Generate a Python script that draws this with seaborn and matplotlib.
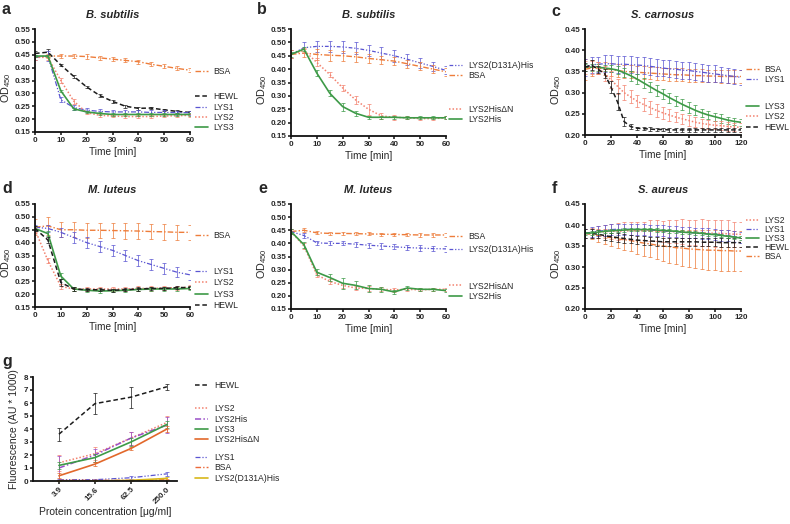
import numpy as np
import pandas as pd
import matplotlib
matplotlib.use('Agg')
import matplotlib.pyplot as plt
from matplotlib.lines import Line2D
from matplotlib.legend import Legend
import seaborn as sns

sns.set_style('ticks')
plt.rcParams['font.family'] = ['Liberation Sans', 'DejaVu Sans']
plt.rcParams['mathtext.fontset'] = 'custom'
plt.rcParams['mathtext.rm'] = 'Liberation Sans'

# ---------------- data ----------------
t60 = [0, 5, 10, 15, 20, 25, 30, 35, 40, 45, 50, 55, 60]
t120 = [0, 5, 10, 15, 20, 25, 30, 35, 40, 45, 50, 55, 60, 65, 70, 75, 80, 85, 90, 95, 100, 105, 110, 115, 120]

# a: B. subtilis
a_bsa = [0.440, 0.445, 0.445, 0.445, 0.443, 0.438, 0.433, 0.428, 0.423, 0.413, 0.405, 0.397, 0.390]
a_bsa_err = [0.010, 0.008, 0.008, 0.008, 0.008, 0.008, 0.008, 0.008, 0.008, 0.008, 0.008, 0.008, 0.008]
a_hewl = [0.455, 0.460, 0.410, 0.366, 0.325, 0.292, 0.269, 0.250, 0.242, 0.243, 0.236, 0.230, 0.226]
a_hewl_err = [0.010, 0.012, 0.005, 0.005, 0.005, 0.005, 0.005, 0.005, 0.005, 0.005, 0.005, 0.005, 0.005]
a_lys1 = [0.440, 0.445, 0.275, 0.245, 0.235, 0.230, 0.228, 0.228, 0.228, 0.226, 0.226, 0.225, 0.225]
a_lys1_err = [0.010, 0.020, 0.010, 0.008, 0.008, 0.008, 0.008, 0.008, 0.008, 0.008, 0.008, 0.008, 0.008]
a_lys2 = [0.440, 0.440, 0.350, 0.270, 0.225, 0.215, 0.212, 0.210, 0.210, 0.210, 0.212, 0.213, 0.215]
a_lys2_err = [0.010, 0.010, 0.010, 0.010, 0.005, 0.005, 0.005, 0.005, 0.005, 0.005, 0.005, 0.005, 0.005]
a_lys3 = [0.445, 0.445, 0.310, 0.240, 0.228, 0.222, 0.218, 0.218, 0.218, 0.218, 0.218, 0.218, 0.218]
a_lys3_err = [0.005, 0.005, 0.005, 0.005, 0.005, 0.005, 0.005, 0.005, 0.005, 0.005, 0.005, 0.005, 0.005]

# b: B. subtilis
b_d131a = [0.455, 0.480, 0.485, 0.485, 0.483, 0.478, 0.470, 0.460, 0.450, 0.437, 0.423, 0.410, 0.395]
b_d131a_err = [0.015, 0.020, 0.020, 0.020, 0.022, 0.022, 0.022, 0.022, 0.022, 0.020, 0.020, 0.018, 0.015]
b_bsa = [0.455, 0.460, 0.455, 0.452, 0.450, 0.446, 0.440, 0.435, 0.430, 0.420, 0.410, 0.400, 0.390]
b_bsa_err = [0.015, 0.015, 0.020, 0.020, 0.018, 0.018, 0.018, 0.015, 0.015, 0.015, 0.015, 0.015, 0.015]
b_hisdn = [0.455, 0.470, 0.425, 0.380, 0.330, 0.285, 0.250, 0.225, 0.220, 0.218, 0.215, 0.215, 0.218]
b_hisdn_err = [0.015, 0.010, 0.015, 0.010, 0.012, 0.015, 0.020, 0.010, 0.010, 0.005, 0.005, 0.005, 0.005]
b_his = [0.455, 0.475, 0.385, 0.310, 0.260, 0.235, 0.220, 0.220, 0.220, 0.218, 0.218, 0.218, 0.218]
b_his_err = [0.010, 0.008, 0.010, 0.012, 0.015, 0.010, 0.005, 0.005, 0.005, 0.005, 0.005, 0.005, 0.005]

# c: S. carnosus
c_bsa = [0.355, 0.358, 0.358, 0.356, 0.355, 0.352, 0.350, 0.349, 0.348, 0.347, 0.346, 0.345, 0.344,
         0.343, 0.342, 0.342, 0.341, 0.340, 0.340, 0.339, 0.339, 0.338, 0.338, 0.338, 0.338]
c_bsa_err = [0.025, 0.020, 0.015, 0.015, 0.015, 0.015, 0.015, 0.015, 0.015, 0.015, 0.015, 0.015, 0.015,
             0.015, 0.015, 0.015, 0.015, 0.015, 0.015, 0.015, 0.015, 0.015, 0.015, 0.015, 0.015]
c_lys1 = [0.360, 0.365, 0.367, 0.368, 0.368, 0.367, 0.367, 0.366, 0.365, 0.364, 0.362, 0.360, 0.358,
          0.356, 0.355, 0.353, 0.352, 0.350, 0.348, 0.346, 0.344, 0.342, 0.340, 0.338, 0.336]
c_lys1_err = [0.020, 0.018, 0.018, 0.020, 0.020, 0.020, 0.020, 0.020, 0.020, 0.020, 0.020, 0.020, 0.020,
              0.020, 0.020, 0.020, 0.020, 0.020, 0.020, 0.020, 0.020, 0.018, 0.018, 0.018, 0.018]
c_lys3 = [0.360, 0.360, 0.360, 0.358, 0.356, 0.353, 0.347, 0.340, 0.332, 0.323, 0.314, 0.305, 0.297,
          0.288, 0.280, 0.272, 0.265, 0.258, 0.252, 0.247, 0.243, 0.239, 0.235, 0.232, 0.230]
c_lys3_err = [0.008, 0.008, 0.008, 0.008, 0.008, 0.010, 0.010, 0.012, 0.012, 0.012, 0.012, 0.012, 0.012,
              0.012, 0.012, 0.012, 0.012, 0.012, 0.010, 0.010, 0.010, 0.010, 0.008, 0.008, 0.008]
c_lys2 = [0.360, 0.360, 0.358, 0.345, 0.330, 0.315, 0.300, 0.290, 0.280, 0.272, 0.265, 0.258, 0.252,
          0.247, 0.242, 0.238, 0.234, 0.230, 0.227, 0.225, 0.223, 0.222, 0.220, 0.219, 0.218]
c_lys2_err = [0.015, 0.015, 0.015, 0.018, 0.020, 0.018, 0.018, 0.015, 0.015, 0.015, 0.015, 0.015, 0.015,
              0.015, 0.012, 0.012, 0.012, 0.012, 0.010, 0.010, 0.010, 0.010, 0.010, 0.010, 0.010]
c_hewl = [0.360, 0.365, 0.355, 0.345, 0.313, 0.278, 0.232, 0.220, 0.216, 0.215, 0.214, 0.213, 0.213,
          0.212, 0.212, 0.212, 0.212, 0.212, 0.212, 0.212, 0.212, 0.212, 0.212, 0.212, 0.212]
c_hewl_err = [0.010, 0.012, 0.008, 0.010, 0.015, 0.020, 0.010, 0.005, 0.004, 0.004, 0.004, 0.004, 0.004,
              0.004, 0.004, 0.004, 0.004, 0.004, 0.004, 0.004, 0.004, 0.004, 0.004, 0.004, 0.004]

# d: M. luteus
d_bsa = [0.460, 0.465, 0.450, 0.450, 0.448, 0.448, 0.447, 0.446, 0.445, 0.443, 0.442, 0.440, 0.440]
d_bsa_err = [0.030, 0.035, 0.030, 0.030, 0.030, 0.030, 0.030, 0.030, 0.030, 0.030, 0.030, 0.030, 0.030]
d_lys1 = [0.460, 0.455, 0.440, 0.420, 0.400, 0.385, 0.370, 0.350, 0.330, 0.315, 0.300, 0.285, 0.275]
d_lys1_err = [0.010, 0.015, 0.018, 0.020, 0.020, 0.020, 0.020, 0.022, 0.022, 0.022, 0.020, 0.020, 0.020]
d_lys2 = [0.450, 0.330, 0.230, 0.220, 0.220, 0.220, 0.220, 0.220, 0.222, 0.222, 0.224, 0.225, 0.226]
d_lys2_err = [0.010, 0.010, 0.010, 0.008, 0.008, 0.008, 0.008, 0.008, 0.008, 0.008, 0.008, 0.008, 0.008]
d_lys3 = [0.455, 0.435, 0.270, 0.220, 0.215, 0.212, 0.213, 0.215, 0.218, 0.220, 0.220, 0.220, 0.222]
d_lys3_err = [0.008, 0.010, 0.012, 0.008, 0.006, 0.006, 0.006, 0.006, 0.006, 0.006, 0.006, 0.006, 0.006]
d_hewl = [0.455, 0.410, 0.245, 0.220, 0.217, 0.217, 0.215, 0.217, 0.220, 0.222, 0.222, 0.225, 0.226]
d_hewl_err = [0.008, 0.010, 0.012, 0.006, 0.006, 0.006, 0.006, 0.006, 0.006, 0.006, 0.006, 0.006, 0.006]

# e: M. luteus
e_bsa = [0.445, 0.450, 0.440, 0.438, 0.438, 0.437, 0.436, 0.435, 0.434, 0.433, 0.432, 0.432, 0.432]
e_bsa_err = [0.008, 0.008, 0.006, 0.006, 0.006, 0.006, 0.006, 0.006, 0.006, 0.006, 0.006, 0.006, 0.006]
e_d131a = [0.445, 0.430, 0.402, 0.400, 0.400, 0.397, 0.393, 0.390, 0.387, 0.384, 0.382, 0.380, 0.379]
e_d131a_err = [0.010, 0.010, 0.008, 0.008, 0.008, 0.010, 0.010, 0.010, 0.010, 0.010, 0.010, 0.010, 0.010]
e_hisdn = [0.445, 0.390, 0.280, 0.255, 0.240, 0.230, 0.228, 0.225, 0.223, 0.225, 0.223, 0.225, 0.225]
e_hisdn_err = [0.010, 0.010, 0.010, 0.010, 0.010, 0.008, 0.008, 0.008, 0.008, 0.006, 0.006, 0.006, 0.006]
e_his = [0.445, 0.395, 0.290, 0.270, 0.248, 0.240, 0.228, 0.225, 0.215, 0.230, 0.225, 0.225, 0.220]
e_his_err = [0.010, 0.012, 0.012, 0.015, 0.020, 0.015, 0.012, 0.010, 0.006, 0.006, 0.006, 0.006, 0.006]

# f: S. aureus
f_lys2 = [0.380, 0.382, 0.383, 0.384, 0.385, 0.385, 0.386, 0.386, 0.386, 0.386, 0.386, 0.386, 0.385,
          0.385, 0.384, 0.384, 0.383, 0.382, 0.382, 0.381, 0.380, 0.380, 0.379, 0.378, 0.378]
f_lys2_err = [0.010, 0.012, 0.015, 0.015, 0.018, 0.020, 0.020, 0.022, 0.022, 0.022, 0.025, 0.025, 0.025,
              0.028, 0.028, 0.030, 0.030, 0.030, 0.032, 0.032, 0.032, 0.032, 0.032, 0.030, 0.030]
f_lys1 = [0.380, 0.383, 0.385, 0.387, 0.389, 0.390, 0.390, 0.390, 0.390, 0.389, 0.388, 0.387, 0.386,
          0.385, 0.384, 0.383, 0.382, 0.381, 0.380, 0.379, 0.378, 0.376, 0.374, 0.372, 0.370]
f_lys1_err = [0.010, 0.012, 0.012, 0.012, 0.013, 0.013, 0.013, 0.013, 0.013, 0.013, 0.013, 0.013, 0.013,
              0.013, 0.013, 0.013, 0.013, 0.013, 0.013, 0.013, 0.013, 0.013, 0.013, 0.013, 0.013]
f_lys3 = [0.380, 0.381, 0.383, 0.385, 0.386, 0.387, 0.388, 0.389, 0.389, 0.389, 0.389, 0.388, 0.387,
          0.386, 0.385, 0.383, 0.382, 0.381, 0.380, 0.378, 0.377, 0.375, 0.373, 0.371, 0.369]
f_lys3_err = [0.004, 0.004, 0.004, 0.004, 0.004, 0.004, 0.004, 0.004, 0.004, 0.004, 0.004, 0.004, 0.004,
              0.004, 0.004, 0.004, 0.004, 0.004, 0.004, 0.004, 0.004, 0.004, 0.004, 0.004, 0.004]
f_hewl = [0.380, 0.380, 0.378, 0.375, 0.372, 0.370, 0.368, 0.366, 0.364, 0.363, 0.362, 0.361, 0.360,
          0.360, 0.360, 0.360, 0.360, 0.360, 0.359, 0.359, 0.359, 0.358, 0.358, 0.358, 0.358]
f_hewl_err = [0.010, 0.010, 0.010, 0.010, 0.010, 0.010, 0.010, 0.010, 0.010, 0.010, 0.010, 0.010, 0.010,
              0.010, 0.010, 0.010, 0.010, 0.010, 0.010, 0.010, 0.010, 0.010, 0.010, 0.010, 0.010]
f_bsa = [0.380, 0.378, 0.375, 0.372, 0.370, 0.367, 0.365, 0.363, 0.360, 0.357, 0.355, 0.352, 0.350,
         0.348, 0.346, 0.345, 0.343, 0.342, 0.341, 0.340, 0.340, 0.339, 0.339, 0.338, 0.338]
f_bsa_err = [0.010, 0.012, 0.015, 0.018, 0.020, 0.022, 0.024, 0.026, 0.028, 0.030, 0.032, 0.034, 0.036,
             0.038, 0.040, 0.042, 0.044, 0.045, 0.046, 0.047, 0.048, 0.048, 0.048, 0.048, 0.048]

# g: fluorescence vs concentration
conc_labels = ['3.9', '15.6', '62.5', '250.0']
g_hewl = [3.6, 5.95, 6.45, 7.25]
g_hewl_err = [0.5, 0.8, 0.8, 0.25]
g_lys2 = [1.4, 2.1, 3.3, 4.5]
g_lys2_err = [0.6, 0.5, 0.5, 0.5]
g_lys2his = [1.0, 2.0, 3.3, 4.3]
g_lys2his_err = [0.9, 0.5, 0.5, 0.6]
g_lys3 = [1.2, 1.8, 3.0, 4.35]
g_lys3_err = [0.3, 0.3, 0.3, 0.3]
g_hisdn = [0.4, 1.3, 2.5, 4.0]
g_hisdn_err = [0.2, 0.15, 0.15, 0.2]
g_lys1 = [0.1, 0.1, 0.25, 0.55]
g_lys1_err = [0.05, 0.05, 0.1, 0.15]
g_bsa = [0.05, 0.05, 0.05, 0.1]
g_bsa_err = [0.03, 0.03, 0.03, 0.05]
g_d131a = [0.0, 0.0, 0.05, 0.2]
g_d131a_err = [0.03, 0.03, 0.03, 0.1]

# ---------------- styles ----------------
STY = {
    'HEWL': ('#1c1c1c', (3, 1.8), 1.1),
    'LYS1': ('#5a55d2', (4, 1.5, 1, 1.5, 1, 1.5), 0.9),
    'LYS2': ('#f3826f', (1, 1.3), 1.1),
    'LYS3': ('#3d9a47', None, 1.2),
    'BSA': ('#ee7d3b', (4, 1.5, 1, 1.5), 1.0),
    'LYS2His': ('#3d9a47', None, 1.2),
    'LYS2His\u0394N': ('#f3826f', (1, 1.3), 1.1),
    'LYS2(D131A)His': ('#5a55d2', (3, 1.5, 1, 1.5, 1, 1.5), 0.9),
}
STY_G = dict(STY)
STY_G.update({
    'LYS2His': ('#9a4fc8', (4, 1.5, 1, 1.5), 1.1),
    'LYS2His\u0394N': ('#e2682b', None, 1.2),
    'LYS2(D131A)His': ('#d8b81a', None, 1.2),
    'BSA': ('#ec6a3a', (4, 1.5, 1, 1.5), 1.0),
})

W, H = 790, 524
fig = plt.figure(figsize=(W / 100, H / 100), dpi=100)


def add_ax(l, t, r, b):
    return fig.add_axes([l / W, 1 - b / H, (r - l) / W, (b - t) / H])


def draw(ax, x, name, y, err, sty):
    color, dash, lw = sty[name]
    df = pd.DataFrame({'x': x, 'y': y})
    sns.lineplot(data=df, x='x', y='y', ax=ax, color=color, linewidth=lw)
    if dash is not None:
        ax.lines[-1].set_dashes(dash)
    ax.errorbar(x, y, yerr=err, fmt='none', ecolor=color, elinewidth=0.6,
                capsize=1.5, capthick=0.6, alpha=0.85)


def label_group(ax, names, frac, sty, x=1.03, spacing=0.15):
    handles = []
    for n in names:
        color, dash, lw = sty[n]
        h = Line2D([], [], color=color, lw=lw)
        if dash is not None:
            h.set_dashes(dash)
        handles.append(h)
    leg = Legend(ax, handles, names, loc='center left', bbox_to_anchor=(x, frac),
                 frameon=False, fontsize=6.2, handlelength=1.5, handletextpad=0.7,
                 labelspacing=spacing, borderpad=0, borderaxespad=0)
    ax.add_artist(leg)


def style_spines(ax):
    sns.despine(ax=ax)
    for s in ['left', 'bottom']:
        ax.spines[s].set_linewidth(1.3)
        ax.spines[s].set_color('#111111')
    ax.tick_params(labelsize=5.8, width=1.1, length=2.5, pad=1, color='#111111')
    for lab in ax.get_xticklabels() + ax.get_yticklabels():
        lab.set_fontweight('bold')


def style_ax(ax, title, xticks, yticks):
    ax.set_xlim(xticks[0], xticks[-1])
    ax.set_ylim(yticks[0], yticks[-1])
    ax.set_xticks(xticks)
    ax.set_yticks(yticks)
    ax.set_yticklabels([f'{v:.2f}' for v in yticks])
    style_spines(ax)
    ax.set_xlabel('Time [min]', fontsize=7.3, labelpad=2)
    ax.set_ylabel('OD$_{\\mathregular{450}}$', fontsize=7.8)
    ax.yaxis.set_label_coords(-0.142, 0.43)
    ax.set_title(title, fontsize=8, fontweight='bold', fontstyle='italic', pad=8)


x60 = [0, 10, 20, 30, 40, 50, 60]
x120 = [0, 20, 40, 60, 80, 100, 120]
y15 = [0.15, 0.20, 0.25, 0.30, 0.35, 0.40, 0.45, 0.50, 0.55]
y20 = [0.20, 0.25, 0.30, 0.35, 0.40, 0.45]

# a
ax = add_ax(35, 29, 190, 132)
draw(ax, t60, 'BSA', a_bsa, a_bsa_err, STY)
draw(ax, t60, 'HEWL', a_hewl, a_hewl_err, STY)
draw(ax, t60, 'LYS1', a_lys1, a_lys1_err, STY)
draw(ax, t60, 'LYS2', a_lys2, a_lys2_err, STY)
draw(ax, t60, 'LYS3', a_lys3, a_lys3_err, STY)
style_ax(ax, 'B. subtilis', x60, y15)
label_group(ax, ['BSA'], 0.59, STY)
label_group(ax, ['HEWL', 'LYS1', 'LYS2', 'LYS3'], 0.19, STY)

# b
ax = add_ax(291, 29, 446, 136)
draw(ax, t60, 'LYS2(D131A)His', b_d131a, b_d131a_err, STY)
draw(ax, t60, 'BSA', b_bsa, b_bsa_err, STY)
draw(ax, t60, 'LYS2His\u0394N', b_hisdn, b_hisdn_err, STY)
draw(ax, t60, 'LYS2His', b_his, b_his_err, STY)
style_ax(ax, 'B. subtilis', x60, y15)
label_group(ax, ['LYS2(D131A)His', 'BSA'], 0.61, STY, x=1.02)
label_group(ax, ['LYS2His\u0394N', 'LYS2His'], 0.2, STY, x=1.02)

# c
ax = add_ax(585, 29, 741, 135)
draw(ax, t120, 'BSA', c_bsa, c_bsa_err, STY)
draw(ax, t120, 'LYS1', c_lys1, c_lys1_err, STY)
draw(ax, t120, 'LYS3', c_lys3, c_lys3_err, STY)
draw(ax, t120, 'LYS2', c_lys2, c_lys2_err, STY)
draw(ax, t120, 'HEWL', c_hewl, c_hewl_err, STY)
style_ax(ax, 'S. carnosus', x120, y20)
label_group(ax, ['BSA', 'LYS1'], 0.57, STY)
label_group(ax, ['LYS3', 'LYS2', 'HEWL'], 0.17, STY)

# d
ax = add_ax(35, 204, 190, 307)
draw(ax, t60, 'BSA', d_bsa, d_bsa_err, STY)
draw(ax, t60, 'LYS1', d_lys1, d_lys1_err, STY)
draw(ax, t60, 'LYS2', d_lys2, d_lys2_err, STY)
draw(ax, t60, 'LYS3', d_lys3, d_lys3_err, STY)
draw(ax, t60, 'HEWL', d_hewl, d_hewl_err, STY)
style_ax(ax, 'M. luteus', x60, y15)
label_group(ax, ['BSA'], 0.69, STY)
label_group(ax, ['LYS1', 'LYS2', 'LYS3', 'HEWL'], 0.18, STY, spacing=0.28)

# e
ax = add_ax(291, 204, 446, 309)
draw(ax, t60, 'BSA', e_bsa, e_bsa_err, STY)
draw(ax, t60, 'LYS2(D131A)His', e_d131a, e_d131a_err, STY)
draw(ax, t60, 'LYS2His\u0394N', e_hisdn, e_hisdn_err, STY)
draw(ax, t60, 'LYS2His', e_his, e_his_err, STY)
style_ax(ax, 'M. luteus', x60, y15)
label_group(ax, ['BSA', 'LYS2(D131A)His'], 0.63, STY, x=1.02, spacing=0.4)
label_group(ax, ['LYS2His\u0394N', 'LYS2His'], 0.17, STY, x=1.02)

# f
ax = add_ax(585, 204, 741, 309)
draw(ax, t120, 'BSA', f_bsa, f_bsa_err, STY)
draw(ax, t120, 'LYS2', f_lys2, f_lys2_err, STY)
draw(ax, t120, 'LYS1', f_lys1, f_lys1_err, STY)
draw(ax, t120, 'HEWL', f_hewl, f_hewl_err, STY)
draw(ax, t120, 'LYS3', f_lys3, f_lys3_err, STY)
style_ax(ax, 'S. aureus', x120, y20)
label_group(ax, ['LYS2', 'LYS1', 'LYS3', 'HEWL', 'BSA'], 0.67, STY, spacing=0.02)

# g
ax = add_ax(33, 377, 177, 481)
gx = [0, 1, 2, 3]
draw(ax, gx, 'HEWL', g_hewl, g_hewl_err, STY_G)
draw(ax, gx, 'LYS2', g_lys2, g_lys2_err, STY_G)
draw(ax, gx, 'LYS2His', g_lys2his, g_lys2his_err, STY_G)
draw(ax, gx, 'LYS3', g_lys3, g_lys3_err, STY_G)
draw(ax, gx, 'LYS2His\u0394N', g_hisdn, g_hisdn_err, STY_G)
draw(ax, gx, 'LYS1', g_lys1, g_lys1_err, STY_G)
draw(ax, gx, 'BSA', g_bsa, g_bsa_err, STY_G)
draw(ax, gx, 'LYS2(D131A)His', g_d131a, g_d131a_err, STY_G)
ax.set_xlim(-0.72, 3.28)
ax.set_ylim(0, 8)
ax.set_yticks(range(0, 9))
ax.set_xticks(gx)
ax.set_xticklabels(conc_labels, rotation=45, ha='right', rotation_mode='anchor')
style_spines(ax)
ax.set_xlabel('Protein concentration [\u03bcg/ml]', fontsize=7.5, labelpad=1)
ax.set_ylabel('Fluorescence (AU * 1000)', fontsize=7.5, labelpad=3)
label_group(ax, ['HEWL'], 0.92, STY_G, x=1.125)
label_group(ax, ['LYS2', 'LYS2His', 'LYS3', 'LYS2His\u0394N'], 0.545, STY_G, x=1.125)
label_group(ax, ['LYS1', 'BSA', 'LYS2(D131A)His'], 0.125, STY_G, x=1.125)

# panel letters
for letter, px, py in [('a', 2, 14), ('b', 257, 14), ('c', 551, 16),
                       ('d', 2, 193), ('e', 258, 193), ('f', 552, 193), ('g', 2, 366)]:
    fig.text(px / W, 1 - py / H, letter, fontsize=11.5, fontweight='bold', va='baseline')

fig.savefig('out.png', dpi=100)
